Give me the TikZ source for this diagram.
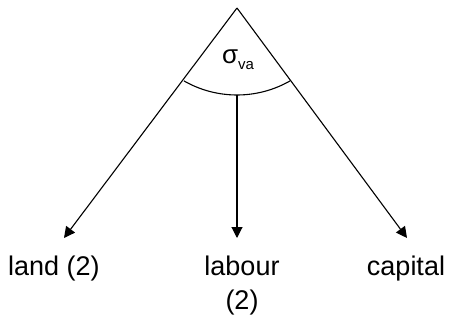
\documentclass[tikz,border=0pt]{standalone}
\usepackage{fontspec}
\setmainfont{Liberation Sans}
\usetikzlibrary{arrows.meta}
\begin{document}
\begin{tikzpicture}[x=1pt,y=1pt,
  conn/.style={line width=1.1pt,-{Triangle[length=11pt,width=11pt]}},
  edge/.style={line width=1.1pt},
  lbl/.style={inner sep=0pt,font=\fontsize{27}{35}\selectfont,align=center}]
\useasboundingbox (0,0) rectangle (453,322);
\coordinate (apex) at (237,314);
\coordinate (tl) at (64,84);
\coordinate (tm) at (237,84);
\coordinate (tr) at (407,84);
\coordinate (ctr) at (237,334);
\coordinate (mid) at (237,227);
\draw[conn] (apex) -- (tl);
\draw[conn] (apex) -- (tr);
\draw[conn] (mid) -- (tm);
\draw[edge] (ctr) ++(-119.7:107) arc[start angle=-119.7,end angle=-60.3,radius=107];
\node[inner sep=0pt,font=\fontsize{26}{30}\selectfont] (sig) at (238,262) {σ\raisebox{-6pt}{\fontsize{15}{18}\selectfont va}};
\node[lbl,anchor=base] (land) at (54,47) {land (2)};
\node[lbl,anchor=base] (lab) at (242,47) {labour};
\node[lbl,anchor=base] (lab2) at (242,13) {(2)};
\node[lbl,anchor=base] (cap) at (406,47) {capital};
\end{tikzpicture}
\end{document}
